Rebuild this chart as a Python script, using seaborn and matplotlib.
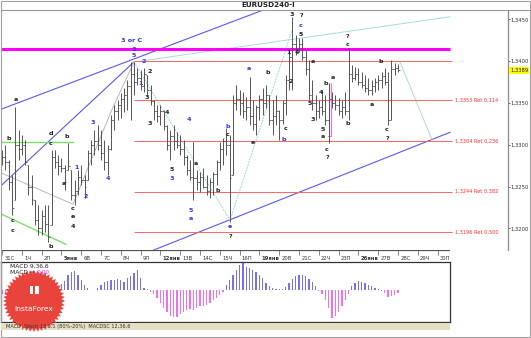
import numpy as np
import pandas as pd
import matplotlib
matplotlib.use("Agg")
import matplotlib.pyplot as plt
import matplotlib.transforms as mtransforms
from matplotlib.patches import Polygon, Rectangle
import seaborn as sns

sns.set_theme(style="white")
plt.rcParams['font.family'] = ['DejaVu Sans']

# ---------------- data ----------------
day_labels = ["31С", "1Ч", "2П", "5янв", "6В", "7С", "8Ч", "9П", "12янв", "13В", "14С",
              "15Ч", "16П", "19янв", "20В", "21С", "22Ч", "23П", "26янв", "27В", "28С",
              "29Ч", "30П"]
week_start_days = ["5янв", "12янв", "19янв", "26янв"]
bars_per_day = 6

high = [1.3294, 1.3300, 1.3282, 1.3264, 1.3345, 1.3318, 1.3312, 1.3306, 1.3276, 1.3264,
        1.3234, 1.3228, 1.3222, 1.3228, 1.3228, 1.3294, 1.3294, 1.3288, 1.3284, 1.3276,
        1.3302, 1.3270, 1.3258, 1.3270, 1.3276, 1.3264, 1.3294, 1.3306, 1.3318, 1.3324,
        1.3318, 1.3306, 1.3300, 1.3336, 1.3348, 1.3354, 1.3362, 1.3368, 1.3377, 1.3399,
        1.3399, 1.3392, 1.3389, 1.3392, 1.3383, 1.3371, 1.3354, 1.3348, 1.3348, 1.3342,
        1.3324, 1.3318, 1.3324, 1.3315, 1.3312, 1.3306, 1.3288, 1.3282, 1.3303, 1.3270,
        1.3268, 1.3272, 1.3264, 1.3260, 1.3268, 1.3282, 1.3303, 1.3308, 1.3320, 1.3312,
        1.3360, 1.3371, 1.3365, 1.3363, 1.3357, 1.3381, 1.3354, 1.3348, 1.3360, 1.3368,
        1.3371, 1.3360, 1.3354, 1.3360, 1.3342, 1.3354, 1.3383, 1.3413, 1.3453, 1.3431,
        1.3428, 1.3428, 1.3413, 1.3401, 1.3377, 1.3360, 1.3354, 1.3365, 1.3360, 1.3374,
        1.3363, 1.3360, 1.3356, 1.3354, 1.3363, 1.3416, 1.3395, 1.3393, 1.3392, 1.3387,
        1.3383, 1.3380, 1.3377, 1.3380, 1.3383, 1.3387, 1.3392, 1.3387, 1.3401, 1.3398,
        1.3396]
low = [1.3276, 1.3270, 1.3246, 1.3216, 1.3234, 1.3282, 1.3288, 1.3276, 1.3240, 1.3228,
       1.3204, 1.3192, 1.3192, 1.3196, 1.3184, 1.3204, 1.3272, 1.3264, 1.3268, 1.3246,
       1.3270, 1.3234, 1.3228, 1.3240, 1.3252, 1.3236, 1.3258, 1.3276, 1.3288, 1.3294,
       1.3282, 1.3270, 1.3264, 1.3294, 1.3318, 1.3330, 1.3332, 1.3339, 1.3342, 1.3330,
       1.3360, 1.3371, 1.3365, 1.3363, 1.3360, 1.3348, 1.3330, 1.3327, 1.3324, 1.3318,
       1.3294, 1.3282, 1.3294, 1.3296, 1.3288, 1.3276, 1.3264, 1.3258, 1.3234, 1.3246,
       1.3244, 1.3248, 1.3240, 1.3237, 1.3240, 1.3252, 1.3270, 1.3276, 1.3288, 1.3208,
       1.3264, 1.3342, 1.3336, 1.3332, 1.3330, 1.3324, 1.3318, 1.3312, 1.3330, 1.3336,
       1.3344, 1.3324, 1.3312, 1.3324, 1.3306, 1.3325, 1.3336, 1.3365, 1.3365, 1.3407,
       1.3411, 1.3401, 1.3383, 1.3354, 1.3342, 1.3330, 1.3332, 1.3336, 1.3324, 1.3302,
       1.3344, 1.3342, 1.3336, 1.3332, 1.3336, 1.3330, 1.3375, 1.3377, 1.3371, 1.3368,
       1.3363, 1.3360, 1.3360, 1.3363, 1.3365, 1.3368, 1.3371, 1.3324, 1.3330, 1.3383,
       1.3387]
close = [1.3285, 1.3280, 1.3255, 1.3225, 1.3300, 1.3295, 1.3300, 1.3280, 1.3250, 1.3235,
         1.3210, 1.3200, 1.3215, 1.3205, 1.3190, 1.3285, 1.3280, 1.3275, 1.3272, 1.3255,
         1.3275, 1.3240, 1.3245, 1.3262, 1.3258, 1.3250, 1.3290, 1.3300, 1.3305, 1.3300,
         1.3290, 1.3280, 1.3295, 1.3330, 1.3340, 1.3348, 1.3355, 1.3360, 1.3370, 1.3385,
         1.3375, 1.3380, 1.3370, 1.3385, 1.3365, 1.3352, 1.3340, 1.3335, 1.3340, 1.3322,
         1.3300, 1.3310, 1.3305, 1.3300, 1.3295, 1.3285, 1.3270, 1.3262, 1.3260, 1.3255,
         1.3262, 1.3250, 1.3245, 1.3255, 1.3265, 1.3280, 1.3295, 1.3305, 1.3300, 1.3260,
         1.3350, 1.3355, 1.3350, 1.3340, 1.3345, 1.3335, 1.3325, 1.3345, 1.3355, 1.3350,
         1.3360, 1.3330, 1.3335, 1.3340, 1.3330, 1.3350, 1.3378, 1.3405, 1.3420, 1.3415,
         1.3420, 1.3405, 1.3390, 1.3360, 1.3350, 1.3340, 1.3345, 1.3340, 1.3330, 1.3355,
         1.3350, 1.3348, 1.3340, 1.3345, 1.3340, 1.3385, 1.3380, 1.3385, 1.3375, 1.3372,
         1.3368, 1.3365, 1.3370, 1.3375, 1.3378, 1.3382, 1.3375, 1.3330, 1.3390, 1.3392,
         1.3389]
macd_hist = [-4, -5, -6, -8, -6, -5, -5, -6, -8, -10, -12, -13, -12, -10, -8, -4, -1, 3, 6,
             9, 15, 18, 19, 15, 10, 5, 2, 0.5, 0.5, 2, 5, 8, 9, 10, 10, 11, 10, 8, 12,
             14, 17, 20, 12, 2, 1,
             -2, -4, -8, -13, -18, -22, -26, -27, -27, -24, -22, -20, -19, -20, -18,
             -16, -16, -15, -13, -10, -8, -5, -2,
             5, 10, 15, 20, 25, 27, 23, 22, 20, 18, 15, 12, 7, 4, 2, 1, 1, 1, 3, 7,
             11, 14, 15, 15, 14, 11, 8, 4,
             -1, -4, -10, -18, -28, -26, -22, -16, -10, -4,
             4, 7, 9, 8, 7, 5, 4, 2, 1, -1, -3, -7, -6, -5, -3]

price_ticks = [1.3200, 1.3250, 1.3300, 1.3350, 1.3400, 1.3450]
ret_levels = [1.3353, 1.3304, 1.3244, 1.3196]
ret_ratios = ["0,114", "0,236", "0,382", "0,500"]
peak_level = 1.3400
magenta_level = 1.3415
last_price = 1.3389

# trend / wave lines: (bar positions, prices)
blue_upper = ([-0.6, 79.1], [1.3342, 1.3461])
blue_fan = ([-0.6, 40.0], [1.3250, 1.3399])
blue_lower = ([43.9, 135.8], [1.3171, 1.3315])
cyan_top = ([40.0, 135.8], [1.3399, 1.3453])
cyan_wave = ([40.0, 69.1, 87.9], [1.3399, 1.3210, 1.3437])
cyan_right = ([120.6, 130.3], [1.3399, 1.3306])
gray_wave = ([-0.6, 21.5, 33.3, 40.0], [1.3267, 1.3229, 1.3342, 1.3399])
green_flat = ([-0.6, 21.5], [1.3303, 1.3303])
green_diag = ([-0.6, 19.4], [1.3218, 1.3181])
magenta_mark = ([99.6, 99.6, 98.8], [1.3374, 1.3310, 1.3310])

blue_lbl = [(39.4, 1.3425, "3 or C"), (40.0, 1.3414, "3"), (40.0, 1.3407, "5"),
            (43.0, 1.3399, "2"), (42.1, 1.3373, "1"), (56.7, 1.3330, "4"),
            (51.5, 1.3260, "3"), (57.3, 1.3222, "5"), (57.3, 1.3212, "a"),
            (68.5, 1.3322, "b"), (69.1, 1.3202, "e"), (74.8, 1.3391, "a"),
            (90.6, 1.3443, "c"), (85.5, 1.3306, "b"), (22.7, 1.3273, "1"),
            (25.5, 1.3238, "2"), (27.6, 1.3327, "3"), (32.1, 1.3260, "4")]
black_lbl = [(44.8, 1.3388, "2"), (43.9, 1.3357, "3"), (50.0, 1.3339, "4"),
             (44.8, 1.3326, "3"), (51.5, 1.3270, "5"),
             (58.8, 1.3278, "a"), (65.5, 1.3245, "b"), (68.5, 1.3312, "c"),
             (76.1, 1.3303, "e"), (69.1, 1.3190, "?"), (80.6, 1.3386, "b"),
             (87.9, 1.3456, "3"), (90.6, 1.3455, "?"), (90.6, 1.3432, "5"),
             (86.7, 1.3410, "1"), (89.4, 1.3410, "4"), (87.6, 1.3376, "2"),
             (104.8, 1.3430, "?"), (104.8, 1.3420, "c"), (94.2, 1.3400, "a"),
             (114.8, 1.3399, "b"), (96.7, 1.3362, "4"), (98.2, 1.3373, "b"),
             (100.3, 1.3381, "a"), (93.3, 1.3349, "5"), (112.1, 1.3348, "a"),
             (85.8, 1.3319, "c"), (94.2, 1.3330, "3"), (97.3, 1.3318, "5"),
             (97.3, 1.3310, "a"), (98.5, 1.3294, "c"), (98.5, 1.3285, "?"),
             (104.8, 1.3325, "b"), (116.7, 1.3318, "c"), (116.7, 1.3308, "?"),
             (4.2, 1.3354, "a"), (2.1, 1.3308, "b"), (14.8, 1.3313, "d"),
             (14.8, 1.3302, "c"), (19.7, 1.3310, "b"), (18.8, 1.3254, "a"),
             (21.5, 1.3224, "c"), (21.5, 1.3214, "e"), (21.5, 1.3202, "4"),
             (3.3, 1.3210, "c"), (3.3, 1.3198, "c"), (14.8, 1.3179, "b")]

# ---------------- figure ----------------
W, H = 531, 338
fig = plt.figure(figsize=(W / 100, H / 100), dpi=100)
fig.patch.set_facecolor("white")

XL = (-0.303, 153.33)
XL_SUB = (-0.303, 135.76)

ax = fig.add_axes([1 / W, 1 - 250 / H, 507 / W, 240 / H])
ax.set_xlim(*XL)
ax.set_ylim(1.31743, 1.34611)
ax.set_facecolor("white")

idx = np.arange(len(high))
opens = np.clip(np.array([close[0]] + close[:-1]), low, high)

# lines behind bars
ax.plot(*blue_upper, color="#5858f0", lw=0.8, zorder=2)
ax.plot(*blue_fan, color="#5858f0", lw=0.8, zorder=2)
ax.plot(*blue_lower, color="#5858f0", lw=0.8, zorder=2)
ax.plot(*cyan_top, color="#a6dbe2", lw=0.7, zorder=2)
ax.plot(*cyan_wave, color="#9fd4dc", lw=0.7, ls=(0, (2, 1)), zorder=2)
ax.plot(*cyan_right, color="#b4d4d8", lw=0.7, zorder=2)
ax.plot(*gray_wave, color="#b8b8b8", lw=0.7, zorder=2)
ax.plot(*green_flat, color="#7ede6c", lw=1.0, zorder=2)
ax.plot(*green_diag, color="#7ede6c", lw=1.0, zorder=2)
ax.hlines(magenta_level, XL[0], XL_SUB[1], color="#ff00ff", lw=2.2, zorder=2)
ax.hlines(peak_level, 40.0, 136.4, color="#ff6464", lw=0.7, zorder=2)
ax.hlines(ret_levels, 40.0, 136.4, color="#ff6464", lw=0.7, zorder=2)
ax.plot(*magenta_mark, color="#ff66ff", lw=0.8, zorder=2)

for lv, rr in zip(ret_levels, ret_ratios):
    ax.text(137.3, lv, f"{lv:.4f}".replace(".", ",") + " Ret " + rr, color="#ff2a2a",
            fontsize=3.6, ha="left", va="center", zorder=5)

# OHLC bars
bar_col = "#4a4a4a"
ax.vlines(idx, low, high, color=bar_col, lw=0.65, zorder=3)
ax.hlines(close, idx, idx + 0.5, color=bar_col, lw=0.55, zorder=3)
ax.hlines(opens, idx - 0.5, idx, color=bar_col, lw=0.55, zorder=3)

for x, y, t in blue_lbl:
    ax.text(x, y, t, color="#3535e0", fontsize=4.6, fontweight="bold",
            ha="center", va="center", zorder=6)
for x, y, t in black_lbl:
    ax.text(x, y, t, color="#222222", fontsize=4.6, fontweight="bold",
            ha="center", va="center", zorder=6)

# price axis on right
ax.yaxis.tick_right()
ax.set_yticks(price_ticks)
ax.set_yticklabels([f"{p:.4f}".replace(".", ",") for p in price_ticks])
ax.tick_params(axis="y", length=1.5, width=0.5, labelsize=3.8, pad=0.6, colors="#333333")
ax.set_xticks([])
for s in ["left", "bottom"]:
    ax.spines[s].set_visible(False)
ax.spines["right"].set_color("#8c8c8c")
ax.spines["right"].set_linewidth(0.9)
ax.spines["top"].set_color("#9a9a9a")
ax.spines["top"].set_linewidth(0.8)

trans = mtransforms.blended_transform_factory(ax.transAxes, ax.transData)
ax.text(1.004, last_price, f"{last_price:.4f}".replace(".", ","), transform=trans,
        fontsize=3.8, ha="left", va="center", color="#222222",
        bbox=dict(fc="#ffff00", ec="none", pad=0.8), zorder=7)

# date strip
dax = fig.add_axes([1 / W, 1 - 262 / H, 449 / W, 12 / H])
dax.set_xlim(*XL_SUB)
dax.set_ylim(0, 1)
dax.axis("off")
dax.axhline(1.0, color="#555555", lw=0.9)
for k, lab in enumerate(day_labels):
    xk = k * bars_per_day
    dax.vlines(xk, 0.55, 1.0, color="#555555", lw=0.5)
    dax.text(xk + 0.7, 0.3, lab, fontsize=3.8, ha="left", va="center", color="#333333",
             fontweight="bold" if lab in week_start_days else "normal")

# MACD panel
mac = fig.add_axes([1 / W, 1 - 322 / H, 449 / W, 60 / H])
mdf = pd.DataFrame({"bar": idx, "macd": macd_hist})
mdf["sign"] = np.where(mdf["macd"] >= 0, "pos", "neg")
sns.barplot(data=mdf, x="bar", y="macd", hue="sign",
            palette={"pos": "#7272f2", "neg": "#f06ef0"}, native_scale=True,
            width=0.38, dodge=False, errorbar=None, saturation=1, legend=False,
            linewidth=0, ax=mac)
mac.set_xlim(*XL_SUB)
mac.set_ylim(-32, 28)
mac.set_xticks([])
mac.set_yticks([])
mac.set_xlabel("")
mac.set_ylabel("")
for s in mac.spines.values():
    s.set_color("#333333")
    s.set_linewidth(0.9)

# overlay for frame, title, tabs, logo
ov = fig.add_axes([0, 0, 1, 1], zorder=20)
ov.set_xlim(0, W)
ov.set_ylim(H, 0)
ov.axis("off")
ov.patch.set_alpha(0)
ov.add_patch(Rectangle((0.5, 0.5), W - 1.2, H - 1.2, fill=False, ec="#a0a0a0", lw=0.8))
ov.plot([508, W], [9.6, 9.6], color="#9a9a9a", lw=0.8)
ov.text(268, 5, "EURUSD240-I", fontsize=5.2, fontweight="bold", ha="center",
        va="center", color="#222222")
ov.add_patch(Rectangle((1, 322.5), 449, 7.5, fc="#e4e0c4", ec="none"))
ov.text(6, 326.5, "MACD  Stoch 13,3,1 (80%-20%)  MACDSC 12,36,6", fontsize=3.6,
        ha="left", va="center", color="#333333")

# InstaForex badge
ang = np.linspace(0, 2 * np.pi, 97)
rad = np.where(np.arange(97) % 2 == 0, 31, 27.5)
pts = np.column_stack([34 + rad * np.cos(ang), 301 + rad * np.sin(ang)])
ov.add_patch(Polygon(pts, closed=True, fc="#e8443c", ec="none"))
ov.add_patch(Rectangle((29.5, 286), 9, 8, fc="white", ec="none"))
ov.add_patch(Rectangle((33, 283), 2, 13, fc="#e8443c", ec="none"))
ov.text(34, 309, "InstaForex", fontsize=5.4, color="white", ha="center", va="center")

# MACD legend texts drawn above the badge
ov.text(10, 266, "MACD 9,36,6", fontsize=4.3, ha="left", va="center", color="#222222")
ov.text(10, 272, "MACD =", fontsize=4.3, ha="left", va="center", color="#222222")
ov.text(37, 272, "0,00", fontsize=4.3, ha="left", va="center", color="#ff30ff")

fig.savefig("out.png", dpi=100, facecolor="white")
